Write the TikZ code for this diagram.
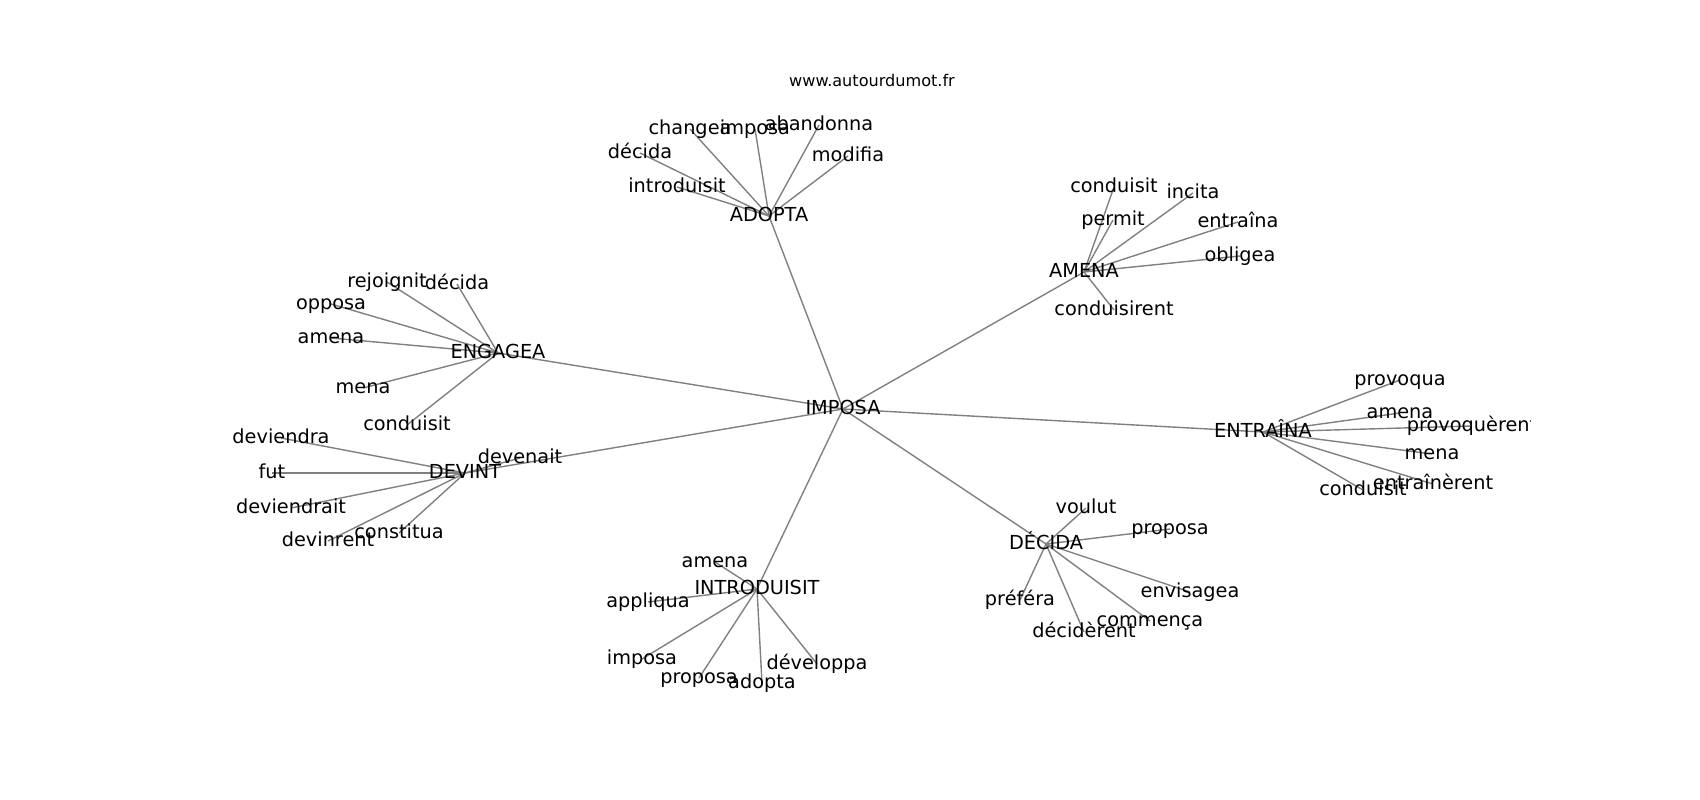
\documentclass[tikz,border=0pt]{standalone}
\usepackage{fontspec}
\setmainfont{DejaVu Sans}
\usetikzlibrary{backgrounds}
\begin{document}
\begin{tikzpicture}[x=1pt,y=-1pt,
           word_style/.style={inner sep=0pt,text height=14.7pt,text depth=4pt,font=\fontsize{19.3}{23}\selectfont},
           title_style/.style={inner sep=0pt,text height=12.2pt,text depth=3.4pt,font=\fontsize{16.1}{19}\selectfont},
           edge_style/.style={draw=gray,line width=1.4pt}]
            \useasboundingbox (0,0) rectangle (1700,800);
            \node[title_style] (title) at (872, 82) {www.autourdumot.fr};
            \begin{scope}
            \clip (212.5,96) rectangle (1530,712);
            % hubs
            \node[word_style] (imposa) at (843, 409) {IMPOSA};
            \node[word_style] (adopta) at (769, 216) {ADOPTA};
            \node[word_style] (amena) at (1084, 272) {AMENA};
            \node[word_style] (engagea) at (498, 353) {ENGAGEA};
            \node[word_style] (devint) at (465, 473) {DEVINT};
            \node[word_style] (entraina) at (1263, 432) {ENTRAÎNA};
            \node[word_style] (decida) at (1046, 544) {DÉCIDA};
            \node[word_style] (introduisit) at (757, 589) {INTRODUISIT};
            % around ADOPTA
            \node[word_style] (a1) at (690, 129) {changea};
            \node[word_style] (a2) at (755, 129) {imposa};
            \node[word_style] (a3) at (819, 125) {abandonna};
            \node[word_style] (a4) at (640, 153) {décida};
            \node[word_style] (a5) at (848, 156) {modifia};
            \node[word_style] (a6) at (677, 187) {introduisit};
            % around AMENA
            \node[word_style] (m1) at (1114, 187) {conduisit};
            \node[word_style] (m2) at (1113, 220) {permit};
            \node[word_style] (m3) at (1193, 193) {incita};
            \node[word_style] (m4) at (1238, 222) {entraîna};
            \node[word_style] (m5) at (1240, 256) {obligea};
            \node[word_style] (m6) at (1114, 310) {conduisirent};
            % around ENGAGEA
            \node[word_style] (g1) at (387, 282) {rejoignit};
            \node[word_style] (g2) at (457, 284) {décida};
            \node[word_style] (g3) at (331, 304) {opposa};
            \node[word_style] (g4) at (331, 338) {amena};
            \node[word_style] (g5) at (363, 388) {mena};
            \node[word_style] (g6) at (407, 425) {conduisit};
            % around DEVINT
            \node[word_style] (d1) at (281, 438) {deviendra};
            \node[word_style] (d2) at (272, 473) {fut};
            \node[word_style] (d3) at (291, 508) {deviendrait};
            \node[word_style] (d4) at (328, 541) {devinrent};
            \node[word_style] (d5) at (399, 533) {constitua};
            \node[word_style] (d6) at (520, 458) {devenait};
            % around ENTRAINA
            \node[word_style] (e1) at (1400, 380) {provoqua};
            \node[word_style] (e2) at (1400, 413) {amena};
            \node[word_style] (e3) at (1472, 426) {provoquèrent};
            \node[word_style] (e4) at (1432, 454) {mena};
            \node[word_style] (e5) at (1433, 484) {entraînèrent};
            \node[word_style] (e6) at (1363, 490) {conduisit};
            % around DECIDA
            \node[word_style] (c1) at (1086, 508) {voulut};
            \node[word_style] (c2) at (1170, 529) {proposa};
            \node[word_style] (c3) at (1020, 600) {préféra};
            \node[word_style] (c4) at (1190, 592) {envisagea};
            \node[word_style] (c5) at (1150, 621) {commença};
            \node[word_style] (c6) at (1084, 632) {décidèrent};
            % around INTRODUISIT
            \node[word_style] (i1) at (715, 562) {amena};
            \node[word_style] (i2) at (648, 602) {appliqua};
            \node[word_style] (i3) at (642, 659) {imposa};
            \node[word_style] (i4) at (699, 678) {proposa};
            \node[word_style] (i5) at (762, 683) {adopta};
            \node[word_style] (i6) at (817, 664) {développa};
            \end{scope}
            \begin{scope}[on background layer]
            \foreach \hub in {adopta,amena,engagea,devint,entraina,decida,introduisit}
                \draw[edge_style] (imposa.center) edge (\hub.center);
            \foreach \p/\q in {adopta/a,amena/m,engagea/g,devint/d,entraina/e,decida/c,introduisit/i}
                \foreach \k in {1,...,6}
                    \draw[edge_style] (\p.center) edge (\q\k.center);
            \end{scope}
        \end{tikzpicture}
\end{document}
